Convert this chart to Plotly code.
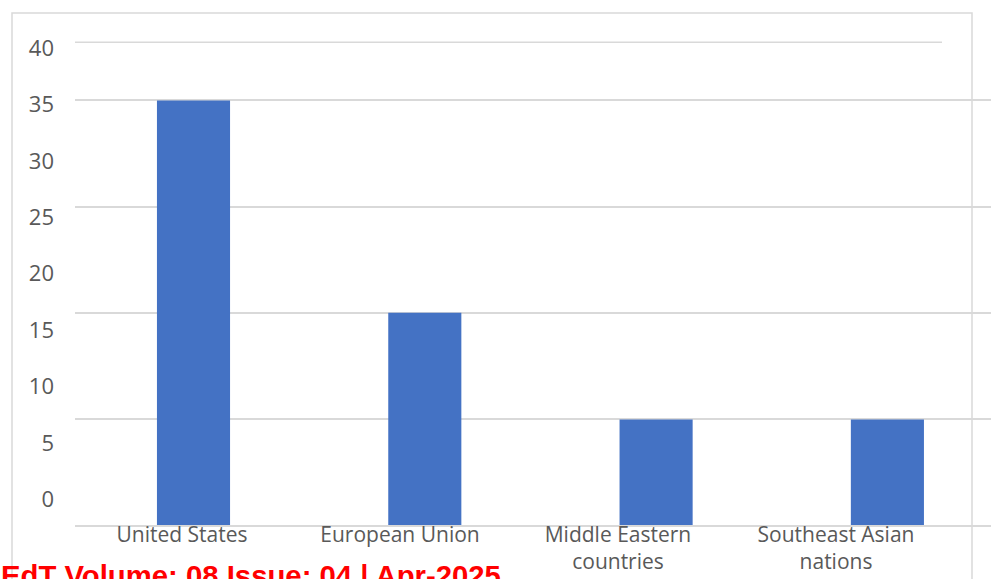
import plotly.graph_objects as go

# ---- data ----
categories = ["United States", "European Union", "Middle Eastern countries", "Southeast Asian nations"]
category_labels = ["United States", "European Union", "Middle Eastern<br>countries", "Southeast Asian<br>nations"]
values = [35, 17.5, 8.7, 8.7]
tick_values = [0, 5, 10, 15, 20, 25, 30, 35, 40]
tick_labels = ["0", "5", "10", "15", "20", "25", "30", "35", "40"]
footer_text = "EdT Volume: 08 Issue: 04 | Apr-2025"

# ---- layout geometry (pixels) ----
W, H = 991, 579
L, R, T, B = 75, 991, 30, 525.5
PW, PH = R - L, B - T

def px(p):
    return (p - L) / PW

def py(p):
    return (B - p) / PH

GRID = "#D9D9D9"
TXT = "#595959"
FONT = "Open Sans"

fig = go.Figure()
fig.add_trace(go.Bar(
    x=categories, y=values,
    marker=dict(color="#4472C4", line=dict(width=0)),
    hoverinfo="x+y",
))

# invisible trace carrying the (offset) category label axis and value label axis
fig.add_trace(go.Scatter(x=category_labels, y=[0] * len(category_labels),
                         xaxis="x2", yaxis="y2", mode="markers",
                         marker=dict(opacity=0), hoverinfo="skip", showlegend=False))

bar_step = 231.3
lab_step = 218.0
fig.update_layout(
    width=W, height=H,
    margin=dict(l=L, r=W - R, t=T, b=H - B, pad=0),
    paper_bgcolor="white", plot_bgcolor="white",
    showlegend=False,
    bargap=0.684,
    font=dict(family=FONT, size=20, color=TXT),
    xaxis=dict(
        type="category",
        range=[(L - 193.5) / bar_step, (R - 193.5) / bar_step],
        showgrid=False, zeroline=False,
        showline=True, linecolor=GRID, linewidth=1.5,
        ticks="", showticklabels=False,
    ),
    xaxis2=dict(
        type="category", overlaying="x", side="bottom", anchor="y",
        range=[(L - 182) / lab_step, (R - 182) / lab_step],
        showgrid=False, zeroline=False, showline=False, ticks="",
        tickfont=dict(family=FONT, size=21, color=TXT),
        ticklabelstandoff=-5,
    ),
    yaxis=dict(
        range=[0, (B - T) / (425.0 / 35.0)],
        tick0=0, dtick=8.75,
        showgrid=True, gridcolor=GRID, gridwidth=1.5,
        zeroline=False, showticklabels=False, ticks="",
    ),
    yaxis2=dict(
        overlaying="y", side="left", anchor="x",
        range=[-(B - 500) / 11.3, (500 - T) / 11.3],
        tickmode="array", tickvals=tick_values, ticktext=tick_labels,
        showgrid=False, zeroline=False, showline=False, ticks="",
        tickfont=dict(family=FONT, size=22, color=TXT),
        ticklabelstandoff=20,
    ),
)

# outer chart border
fig.add_shape(type="rect", xref="paper", yref="paper",
              x0=px(12), x1=px(972), y0=py(600), y1=py(13),
              line=dict(color=GRID, width=1.5), fillcolor="rgba(0,0,0,0)", layer="below")
# top short gridline
fig.add_shape(type="line", xref="paper", yref="y",
              x0=0, x1=px(942), y0=39.8, y1=39.8,
              line=dict(color=GRID, width=1.5), layer="below")

fig.add_annotation(
    text="<b>" + footer_text + "</b>",
    xref="paper", yref="paper", x=px(-1), y=py(576),
    xanchor="left", yanchor="middle", showarrow=False,
    font=dict(family="Liberation Sans", size=29.3, color="#FF0000"),
)

fig.write_html("out.html")
